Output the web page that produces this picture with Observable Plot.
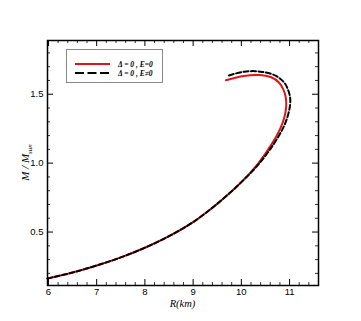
<!DOCTYPE html>
<html>
<head>
<meta charset="utf-8">
<script src="https://cdn.jsdelivr.net/npm/d3@7"></script>
<script src="https://cdn.jsdelivr.net/npm/@observablehq/plot@0.6"></script>
<style>
  html, body { margin: 0; padding: 0; background: #fff; }
  #chart { width: 361px; height: 321px; }
</style>
</head>
<body>
<div id="chart"></div>
<script>
// Δ = 0, E = 0 (red, solid)
const redR = [5.98, 6.5, 7.0, 7.5, 8.0, 8.5, 9.0, 9.5, 10.0, 10.34, 10.63, 10.8, 10.89, 10.93, 10.92, 10.87, 10.78, 10.62, 10.35, 10.05, 9.68];
const redM = [0.163, 0.206, 0.257, 0.316, 0.386, 0.470, 0.572, 0.705, 0.862, 0.993, 1.138, 1.245, 1.33, 1.41, 1.48, 1.535, 1.585, 1.623, 1.64, 1.633, 1.601];
// Δ = 0, E ≠ 0 (black, dashed)
const blackR = [5.98, 6.5, 7.0, 7.5, 8.0, 8.5, 9.0, 9.5, 10.0, 10.36, 10.67, 10.87, 10.96, 11.01, 11.01, 10.97, 10.9, 10.72, 10.40, 10.06, 9.71];
const blackM = [0.163, 0.206, 0.257, 0.316, 0.386, 0.470, 0.572, 0.705, 0.862, 0.993, 1.138, 1.258, 1.34, 1.42, 1.48, 1.53, 1.58, 1.633, 1.664, 1.664, 1.633];

const seriesLabels = ["\u0394 = 0 , E=0", "\u0394 = 0 , E\u22600"];
const xMajor = [6, 7, 8, 9, 10, 11];
const yMajor = [0.5, 1.0, 1.5];
const xDomain = [5.98, 11.6];
const yDomain = [0.112, 1.89];
const xLabel = "R(km)";

const xMinor = d3.range(6, 11.61, 0.2).map(v => +v.toFixed(2));
const yMinor = d3.range(0.2, 1.89, 0.1).map(v => +v.toFixed(2));

const W = 361, H = 321;
const mT = 40, mB = 36, mL = 47, mR = 43;
const iH = H - mT - mB, iW = W - mL - mR;

const red = redR.map((r, i) => ({R: r, M: redM[i]}));
const black = blackR.map((r, i) => ({R: r, M: blackM[i]}));

const fontTick = "Liberation Sans, Arial, sans-serif";

const plot = Plot.plot({
  width: W, height: H,
  marginTop: mT, marginBottom: mB, marginLeft: mL, marginRight: mR,
  x: {domain: xDomain, label: null},
  y: {domain: yDomain, label: null},
  style: {background: "white", color: "black"},
  marks: [
    Plot.line(red, {x: "R", y: "M", stroke: "#e0141b", strokeWidth: 2, curve: "catmull-rom"}),
    Plot.line(black, {x: "R", y: "M", stroke: "black", strokeWidth: 2, strokeDasharray: "5,2.5", curve: "catmull-rom"}),
    // inward ticks, bottom & top
    Plot.tickX(xMajor, {x: d => d, insetTop: iH - 6, strokeWidth: 1}),
    Plot.tickX(xMajor, {x: d => d, insetBottom: iH - 6, strokeWidth: 1}),
    Plot.tickX(xMinor.filter(v => !xMajor.includes(v)), {x: d => d, insetTop: iH - 3, strokeWidth: 0.8}),
    Plot.tickX(xMinor.filter(v => !xMajor.includes(v)), {x: d => d, insetBottom: iH - 3, strokeWidth: 0.8}),
    // inward ticks, left & right
    Plot.tickY(yMajor, {y: d => d, insetRight: iW - 6, strokeWidth: 1}),
    Plot.tickY(yMajor, {y: d => d, insetLeft: iW - 6, strokeWidth: 1}),
    Plot.tickY(yMinor.filter(v => !yMajor.includes(v)), {y: d => d, insetRight: iW - 3, strokeWidth: 0.8}),
    Plot.tickY(yMinor.filter(v => !yMajor.includes(v)), {y: d => d, insetLeft: iW - 3, strokeWidth: 0.8}),
    Plot.axisX({ticks: xMajor, tickSize: 0, tickPadding: 3, tickFormat: d => String(d), fontSize: 9.5, fontFamily: fontTick}),
    Plot.axisY({ticks: yMajor, tickSize: 0, tickPadding: 4, tickFormat: d3.format(".1f"), fontSize: 9.5, fontFamily: fontTick}),
    Plot.frame({stroke: "black", strokeWidth: 1.5})
  ]
});

document.getElementById("chart").appendChild(plot);

const svg = d3.select(plot);
const serif = "Liberation Serif, Times New Roman, serif";

// x axis title
svg.append("text")
  .attr("x", mL + iW / 2).attr("y", H - 14)
  .attr("text-anchor", "middle")
  .attr("font-family", serif).attr("font-style", "italic").attr("font-size", 10.5)
  .text(xLabel);

// y axis title with subscript
const yt = svg.append("text")
  .attr("transform", `translate(${29},${mT + iH / 2}) rotate(-90)`)
  .attr("text-anchor", "middle")
  .attr("font-family", serif).attr("font-style", "italic").attr("font-size", 11);
yt.append("tspan").text("M / M");
yt.append("tspan").attr("font-size", 7).attr("dy", 2.5).text("sun");

// legend
const lg = svg.append("g");
lg.append("rect").attr("x", 66.5).attr("y", 49.5).attr("width", 96).attr("height", 33)
  .attr("fill", "white").attr("stroke", "#888").attr("stroke-width", 1);
lg.append("line").attr("x1", 75).attr("x2", 110).attr("y1", 64).attr("y2", 64)
  .attr("stroke", "#e0141b").attr("stroke-width", 2);
lg.append("line").attr("x1", 75).attr("x2", 110).attr("y1", 73).attr("y2", 73)
  .attr("stroke", "black").attr("stroke-width", 2).attr("stroke-dasharray", "9,3.5");
[64, 73].forEach((yy, i) => {
  lg.append("text").attr("x", 118).attr("y", yy).attr("dy", "0.35em")
    .attr("text-anchor", "start")
    .attr("font-family", serif).attr("font-style", "italic").attr("font-weight", "bold")
    .attr("font-size", 7.5).text(seriesLabels[i]);
});
</script>
</body>
</html>
